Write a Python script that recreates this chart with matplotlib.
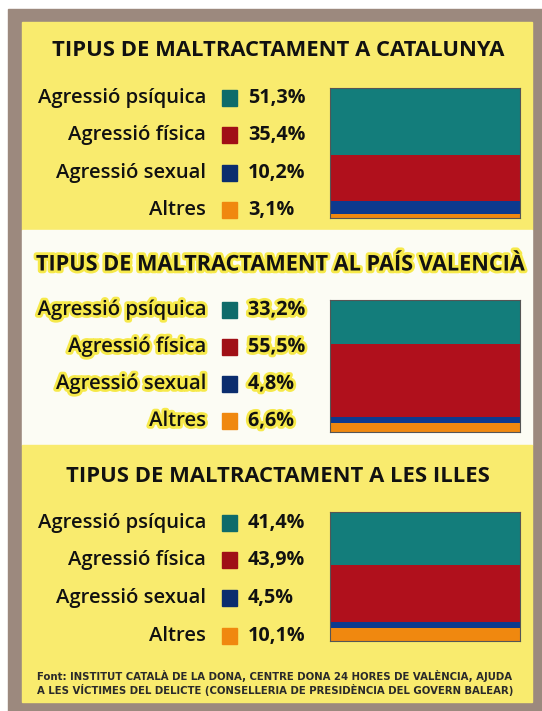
import matplotlib
matplotlib.use('Agg')
import matplotlib.pyplot as plt
import matplotlib.patheffects as pe
from matplotlib.patches import Rectangle

# dades
titles = ['TIPUS DE MALTRACTAMENT A CATALUNYA',
          'TIPUS DE MALTRACTAMENT AL PAÍS VALENCIÀ',
          'TIPUS DE MALTRACTAMENT A LES ILLES']
categories = ['Agressió psíquica', 'Agressió física', 'Agressió sexual', 'Altres']
catalunya = [51.3, 35.4, 10.2, 3.1]
valencia = [33.2, 55.5, 4.8, 6.6]
illes = [41.4, 43.9, 4.5, 10.1]
series = [catalunya, valencia, illes]
source = ('Font: INSTITUT CATALÀ DE LA DONA, CENTRE DONA 24 HORES DE VALÈNCIA, AJUDA\n'
          'A LES VÍCTIMES DEL DELICTE (CONSELLERIA DE PRESIDÈNCIA DEL GOVERN BALEAR)')

colors = ['#137d7b', '#b0101c', '#0d3a8e', '#f0880f']
legend_colors = ['#0f6b6a', '#a00f16', '#0b2d6e', '#f0880f']
YELLOW = '#f9eb6e'
WHITE = '#fcfcf4'
BROWN = '#9c897e'

W, H = 542, 711
fig = plt.figure(figsize=(W / 100, H / 100), dpi=100)
base = fig.add_axes([0, 0, 1, 1])
base.set_xlim(0, W)
base.set_ylim(H, 0)
base.axis('off')

# fons i marc
base.add_patch(Rectangle((0, 0), W, H, color='white'))
base.add_patch(Rectangle((8, 9), W - 8, H - 9, color=BROWN))
base.add_patch(Rectangle((22, 22), 510, 208, color=YELLOW))
base.add_patch(Rectangle((22, 230), 510, 215, color=WHITE))
base.add_patch(Rectangle((22, 445), 510, 257, color=YELLOW))

font = 'Open Sans'
title_x = [278, 280, 278]
title_y = [51, 265, 476]
title_size = [15.8, 15.6, 15.8]
row_y = [[98, 135, 173, 210], [310, 347, 384, 421], [523, 560, 598, 636]]
bar_y = [(88, 218), (300, 432), (512, 641)]
glow = [None, [pe.withStroke(linewidth=4, foreground='#f6e94a')], None]

for i in range(3):
    base.text(title_x[i], title_y[i], titles[i], ha='center', va='center',
              fontsize=title_size[i], fontweight='bold', family=font,
              color='#111111', path_effects=glow[i])
    for j, cat in enumerate(categories):
        y = row_y[i][j]
        base.text(206, y, cat, ha='right', va='center', fontsize=14.6,
                  fontweight='semibold', family=font, color='#111111',
                  path_effects=glow[i])
        base.add_patch(Rectangle((222, y - 8), 15, 16, color=legend_colors[j]))
        base.text(248, y, f'{series[i][j]:.1f}%'.replace('.', ','), ha='left',
                  va='center', fontsize=14.2, fontweight='bold', family=font,
                  color='#111111', path_effects=glow[i])

    # barra apilada
    y0, y1 = bar_y[i]
    ax = fig.add_axes([330 / W, 1 - y1 / H, 190 / W, (y1 - y0) / H])
    bottom = 0
    total = sum(series[i])
    for j in reversed(range(4)):
        v = series[i][j]
        ax.bar(0, v, width=1, bottom=bottom, color=colors[j], linewidth=0)
        bottom += v
    ax.set_xlim(-0.5, 0.5)
    ax.set_ylim(0, total)
    ax.set_xticks([])
    ax.set_yticks([])
    for s in ax.spines.values():
        s.set_color('#555555')
        s.set_linewidth(0.8)

base.text(37, 683, source, ha='left', va='center', fontsize=7.3,
          family='Liberation Sans Narrow', fontweight='bold', color='#2a2a2a',
          linespacing=1.1)

fig.savefig('out.png', dpi=100)
